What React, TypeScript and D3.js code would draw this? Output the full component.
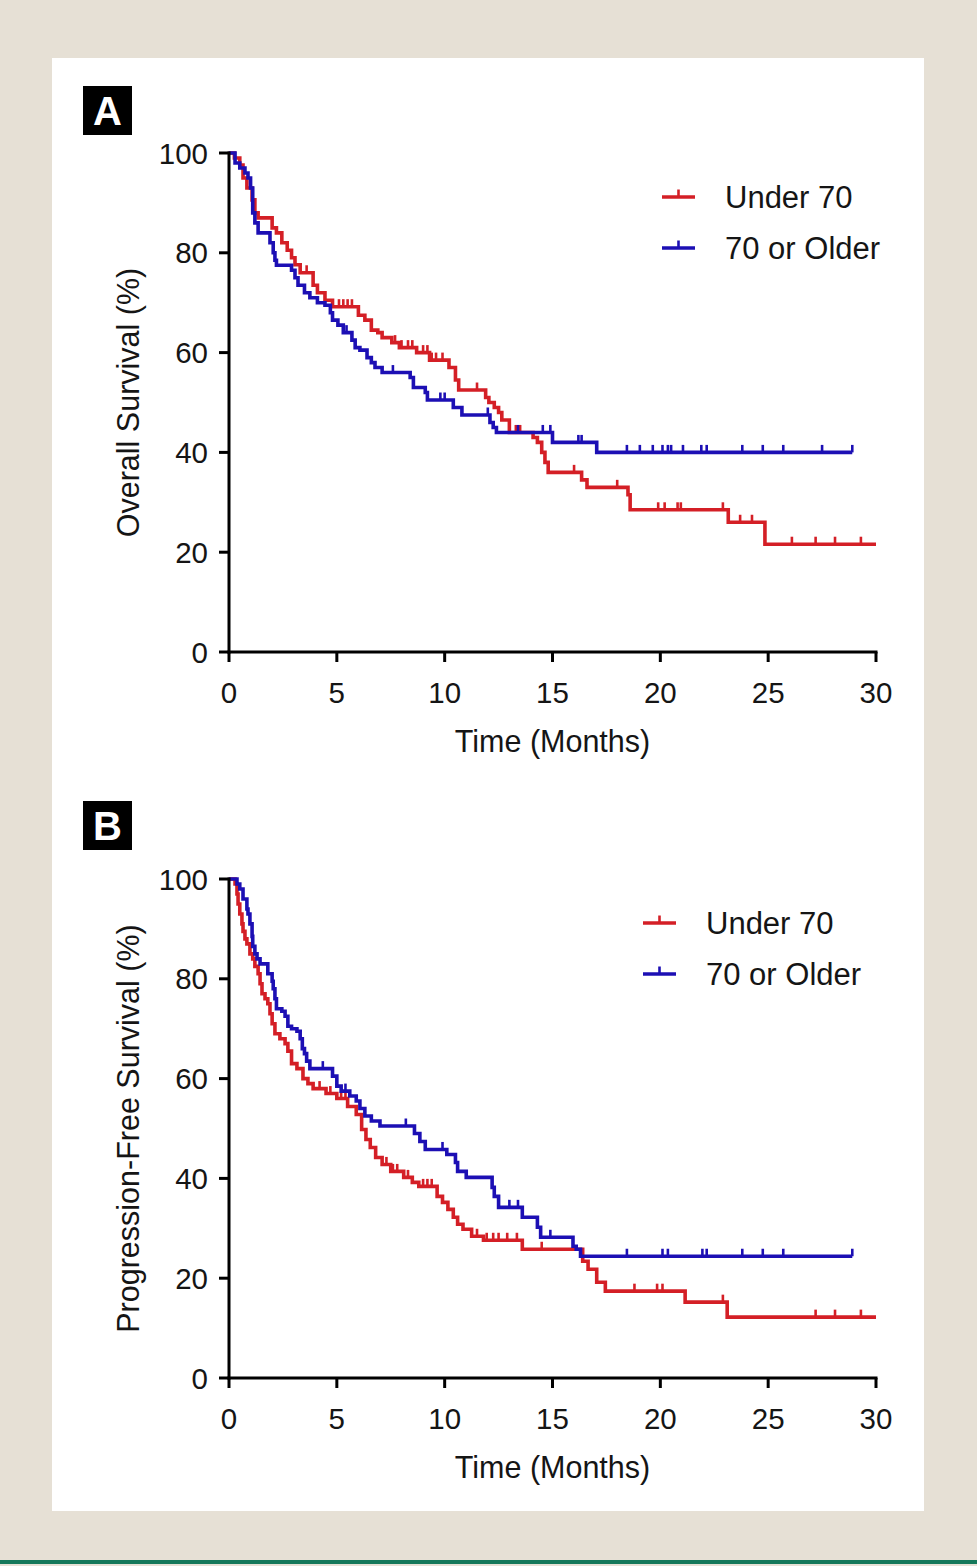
import React from 'react';
import * as d3 from 'd3';

// Kaplan-Meier curves: step times (months), survival (%) after each step,
// censor tick times, and the time where each curve stops.
const osUnderTimes = [0.25, 0.5, 0.65, 0.83, 1.07, 1.2, 1.35, 2.0, 2.2, 2.45, 2.7, 2.9, 3.06, 3.3, 3.9, 4.1, 4.45, 4.8, 6.0, 6.3, 6.6, 6.9, 7.1, 7.55, 7.9, 8.7, 9.3, 10.2, 10.5, 10.65, 11.9, 12.05, 12.3, 12.5, 12.65, 13.0, 14.1, 14.3, 14.5, 14.65, 14.8, 16.35, 16.6, 18.5, 18.6, 23.15, 24.85];
const osUnderSurv = [99, 97.6, 95, 93, 90.6, 88, 87, 85, 84, 82, 80.5, 79, 77.6, 76, 73.5, 72, 70.5, 69.2, 67.5, 66.5, 64.5, 64, 63, 62, 61, 60, 58.5, 57, 54.5, 52.5, 51, 50, 49, 48, 46.5, 44, 43, 42, 40, 38, 36, 34.5, 33, 31.5, 28.5, 26, 21.6];
const osUnderCensor = [3.6, 5.1, 5.3, 5.5, 5.7, 7.7, 8.0, 8.3, 8.5, 9.0, 9.2, 9.4, 9.6, 9.9, 11.5, 13.3, 13.5, 16.0, 18.0, 19.9, 20.2, 20.8, 20.95, 22.9, 23.7, 24.25, 26.1, 27.2, 28.1, 29.3];
const osUnderEnd = 30;

const osOlderTimes = [0.28, 0.5, 0.74, 0.88, 1.0, 1.1, 1.2, 1.35, 1.9, 2.05, 2.13, 2.2, 2.9, 3.06, 3.2, 3.5, 3.75, 4.1, 4.45, 4.7, 4.8, 5.05, 5.3, 5.7, 5.85, 6.07, 6.4, 6.6, 6.77, 7.1, 8.4, 8.55, 9.1, 9.2, 10.4, 10.8, 12.1, 12.25, 12.4, 15.0, 17.05];
const osOlderSurv = [98, 97, 96, 95, 93, 88, 86, 84, 82, 80, 78.5, 77.5, 76.5, 75, 73.5, 72, 71, 70, 69.5, 68, 66.5, 65.5, 64, 62.5, 61, 60.5, 59, 58, 57, 56, 55, 53, 52, 50.5, 49, 47.5, 46, 45, 44, 42, 40];
const osOlderCensor = [5.45, 7.6, 9.8, 10.0, 12.0, 13.4, 14.55, 14.9, 16.2, 16.35, 18.45, 19.05, 19.65, 20.1, 20.35, 20.5, 21.05, 21.9, 22.15, 23.8, 24.75, 25.7, 27.5, 28.9];
const osOlderEnd = 28.9;

const pfsUnderTimes = [0.28, 0.37, 0.42, 0.5, 0.6, 0.65, 0.74, 0.83, 0.97, 1.1, 1.2, 1.35, 1.44, 1.53, 1.67, 1.8, 1.9, 2.0, 2.13, 2.36, 2.6, 2.73, 2.9, 3.15, 3.43, 3.66, 3.9, 4.5, 5.0, 5.5, 5.9, 6.15, 6.35, 6.55, 6.8, 7.1, 7.5, 8.1, 8.5, 8.8, 9.65, 9.9, 10.15, 10.4, 10.6, 10.85, 11.25, 11.8, 13.6, 16.4, 16.65, 17.05, 17.45, 21.15, 23.1];
const pfsUnderSurv = [99, 97, 95, 93, 91, 89.5, 88, 87, 85, 84, 82.5, 81, 79, 77, 76, 75, 73, 71, 69, 68, 67, 65.5, 63, 62, 60, 59, 58, 57, 56, 54.4, 52.8, 49.8, 47.8, 46.2, 44.2, 42.8, 41.4, 40.2, 39.2, 38.4, 36.4, 35.2, 33.8, 32.2, 30.8, 29.8, 28.4, 27.6, 25.8, 23.4, 21.8, 19.2, 17.4, 15.2, 12.2];
const pfsUnderCensor = [4.2, 4.7, 5.2, 5.4, 7.3, 7.6, 7.8, 8.3, 9.0, 9.2, 9.4, 11.5, 11.95, 12.25, 12.5, 12.9, 13.35, 14.5, 18.8, 19.85, 20.1, 22.9, 27.2, 28.1, 29.3];
const pfsUnderEnd = 30;

const pfsOlderTimes = [0.37, 0.5, 0.65, 0.83, 0.88, 0.97, 1.07, 1.1, 1.2, 1.3, 1.44, 1.8, 2.0, 2.05, 2.13, 2.2, 2.45, 2.6, 2.73, 2.9, 3.15, 3.3, 3.4, 3.5, 3.6, 3.75, 4.8, 5.0, 5.2, 5.6, 5.9, 6.07, 6.3, 6.6, 7.0, 8.6, 8.85, 9.1, 10.1, 10.5, 10.6, 11.0, 12.2, 12.3, 12.5, 13.6, 14.3, 14.45, 15.95, 16.1, 16.3];
const pfsOlderSurv = [99, 98, 96, 94, 93, 91, 88.5, 86.5, 85, 84, 83, 81, 79.5, 78, 76, 74, 73.5, 72.5, 70.5, 70, 69.5, 68, 66, 65, 63.5, 62, 60.5, 58.5, 57.5, 56.5, 55.5, 54, 52.5, 51.5, 50.5, 49, 47.4, 45.8, 44.8, 43.2, 41.4, 40.2, 38.2, 36.4, 34.2, 32.2, 30.2, 28.2, 26.4, 25.8, 24.4];
const pfsOlderCensor = [4.35, 5.4, 8.2, 9.9, 13.0, 13.4, 14.9, 18.45, 20.1, 20.35, 21.95, 22.15, 23.8, 24.75, 25.7, 28.9];
const pfsOlderEnd = 28.9;

const groupLabels = ['Under 70', '70 or Older'];
const xTicks = [0, 5, 10, 15, 20, 25, 30];
const yTicks = [0, 20, 40, 60, 80, 100];

const RED = '#d41f26';
const BLUE = '#1c0fb4';
const INK = '#151515';
const FONT = '"Liberation Sans", Arial, Helvetica, sans-serif';

type Curve = { times: number[]; surv: number[]; censor: number[]; end: number; color: string };

function survAt(c: Curve, t: number): number {
  let s = 100;
  for (let i = 0; i < c.times.length; i++) {
    if (c.times[i] <= t) s = c.surv[i];
  }
  return s;
}

function Panel({ top, letter, letterY, yTitle, legendX, curves }: {
  top: number; letter: string; letterY: number; yTitle: string; legendX: number; curves: Curve[];
}) {
  const left = 229;
  const right = 876;
  const bottom = top + 499;
  const x = d3.scaleLinear().domain([0, 30]).range([left, right]);
  const y = d3.scaleLinear().domain([0, 100]).range([bottom, top]);
  const line = d3.line<[number, number]>()
    .x((d) => x(d[0]))
    .y((d) => y(d[1]))
    .curve(d3.curveStepAfter);

  return (
    <g>
      {/* panel letter */}
      <rect x={83} y={letterY} width={49} height={49} fill="#000" />
      <text x={107.5} y={letterY + 24.5} dy="0.36em" textAnchor="middle" fill="#fff"
        fontFamily={FONT} fontWeight="bold" fontSize={40}>{letter}</text>

      {/* curves */}
      {curves.map((c, k) => {
        const pts: [number, number][] = [[0, 100]];
        c.times.forEach((t, i) => pts.push([t, c.surv[i]]));
        pts.push([c.end, c.surv[c.surv.length - 1]]);
        return (
          <g key={k}>
            <path d={line(pts) ?? ''} fill="none" stroke={c.color} strokeWidth={3.6} strokeLinejoin="miter" />
            {c.censor.map((t, i) => (
              <line key={i} x1={x(t)} x2={x(t)} y1={y(survAt(c, t))} y2={y(survAt(c, t)) - 7.5}
                stroke={c.color} strokeWidth={2.6} />
            ))}
          </g>
        );
      })}

      {/* axes */}
      <line x1={left} x2={left} y1={top - 1.5} y2={bottom + 1.5} stroke="#000" strokeWidth={3} />
      <line x1={left - 1.5} x2={right + 1.5} y1={bottom} y2={bottom} stroke="#000" strokeWidth={3} />
      {yTicks.map((t) => (
        <g key={t}>
          <line x1={left - 10} x2={left} y1={y(t)} y2={y(t)} stroke="#000" strokeWidth={3} />
          <text x={left - 21} y={y(t)} dy="0.36em" textAnchor="end" fontFamily={FONT} fontSize={29.5} fill={INK}>{t}</text>
        </g>
      ))}
      {xTicks.map((t) => (
        <g key={t}>
          <line x1={x(t)} x2={x(t)} y1={bottom} y2={bottom + 10} stroke="#000" strokeWidth={3} />
          <text x={x(t)} y={bottom + 40} dy="0.36em" textAnchor="middle" fontFamily={FONT} fontSize={29.5} fill={INK}>{t}</text>
        </g>
      ))}
      <text x={(left + right) / 2} y={bottom + 89} dy="0.36em" textAnchor="middle" fontFamily={FONT}
        fontSize={30.5} fill={INK}>Time (Months)</text>
      <text transform={`translate(128,${(top + bottom) / 2}) rotate(-90)`} dy="0.36em" textAnchor="middle"
        fontFamily={FONT} fontSize={30.5} fill={INK}>{yTitle}</text>

      {/* legend */}
      {curves.map((c, k) => {
        const ly = top + 44 + k * 51;
        return (
          <g key={k}>
            <line x1={legendX} x2={legendX + 33} y1={ly} y2={ly} stroke={c.color} strokeWidth={3.6} />
            <line x1={legendX + 16.5} x2={legendX + 16.5} y1={ly} y2={ly - 7.5} stroke={c.color} strokeWidth={2.6} />
            <text x={legendX + 63} y={ly} dy="0.36em" fontFamily={FONT} fontSize={31} fill={INK}>{groupLabels[k]}</text>
          </g>
        );
      })}
    </g>
  );
}

export default function App() {
  const osCurves: Curve[] = [
    { times: osUnderTimes, surv: osUnderSurv, censor: osUnderCensor, end: osUnderEnd, color: RED },
    { times: osOlderTimes, surv: osOlderSurv, censor: osOlderCensor, end: osOlderEnd, color: BLUE },
  ];
  const pfsCurves: Curve[] = [
    { times: pfsUnderTimes, surv: pfsUnderSurv, censor: pfsUnderCensor, end: pfsUnderEnd, color: RED },
    { times: pfsOlderTimes, surv: pfsOlderSurv, censor: pfsOlderCensor, end: pfsOlderEnd, color: BLUE },
  ];
  return (
    <svg width={977} height={1566} viewBox="0 0 977 1566"
      style={{ position: 'absolute', left: 0, top: 0, display: 'block' }}>
      <rect x={0} y={0} width={977} height={1566} fill="#e6e0d5" />
      <rect x={52} y={58} width={872} height={1453} fill="#fff" />
      <rect x={0} y={1560} width={977} height={4} fill="#14785a" />
      <Panel top={153} letter="A" letterY={86} yTitle="Overall Survival (%)" legendX={662} curves={osCurves} />
      <Panel top={879} letter="B" letterY={801} yTitle="Progression-Free Survival (%)" legendX={643} curves={pfsCurves} />
    </svg>
  );
}
